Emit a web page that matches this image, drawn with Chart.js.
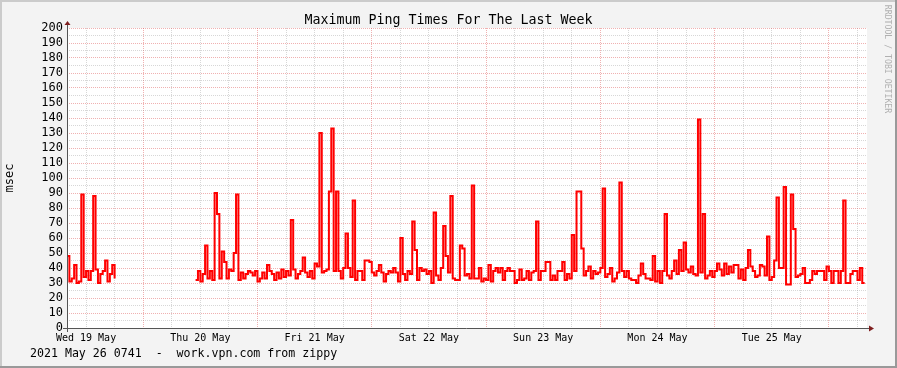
<!DOCTYPE html>
<html>
<head>
<meta charset="utf-8">
<script src="https://cdn.jsdelivr.net/npm/chart.js@4.4.1/dist/chart.umd.min.js"></script>
<style>
  html, body { margin: 0; padding: 0; background: #f3f3f3; }
  canvas { display: block; }
</style>
</head>
<body>
<canvas id="graficoPing" width="897" height="368"></canvas>
<script>
// Dados (máximo de ping a cada 30 minutos, em msec)
const titulo = 'Maximum Ping Times For The Last Week';
const rodape = '2021 May 26 0741  -  work.vpn.com from zippy';
const marcaDagua = 'RRDTOOL / TOBI OETIKER';
const unidade = 'msec';

const diasLabels = ['Wed 19 May', 'Thu 20 May', 'Fri 21 May', 'Sat 22 May', 'Sun 23 May', 'Mon 24 May', 'Tue 25 May'];
const inicioHoras = 8;      // horas desde Wed 19 May 00:00
const fimHoras = 176;       // uma semana depois
const passoHoras = 0.5;     // intervalo entre amostras
const yMin = 0;
const yMax = 200;

const pingMax = [
  48, 31, 33, 42, 30, 31, 89, 34, 38, 32, 38, 88,
  39, 30, 36, 38, 45, 31, 36, 42, 33, null, null, null,
  null, null, null, null, null, null, null, null, null, null, null, null,
  null, null, null, null, null, null, null, null, null, null, null, null,
  null, null, null, null, null, null, 32, 38, 31, 36, 55, 33,
  38, 32, 90, 76, 33, 51, 44, 33, 39, 38, 50, 89,
  32, 37, 33, 36, 38, 37, 35, 38, 31, 33, 37, 33,
  42, 38, 36, 32, 37, 33, 39, 34, 38, 35, 72, 39,
  33, 36, 38, 47, 37, 34, 38, 33, 43, 41, 130, 37,
  38, 39, 91, 133, 38, 91, 38, 33, 40, 63, 40, 34,
  85, 32, 38, 38, 32, 45, 45, 44, 37, 35, 38, 42,
  37, 31, 36, 38, 37, 40, 37, 31, 60, 36, 32, 38,
  36, 71, 52, 32, 40, 38, 39, 36, 38, 30, 77, 35,
  32, 40, 68, 48, 37, 88, 33, 32, 32, 55, 53, 35,
  36, 33, 95, 33, 33, 40, 31, 33, 32, 42, 31, 38,
  40, 37, 40, 32, 38, 40, 38, 38, 30, 32, 39, 32,
  33, 38, 32, 37, 38, 71, 32, 38, 38, 44, 44, 32,
  35, 32, 38, 38, 44, 32, 36, 33, 62, 38, 91, 91,
  53, 35, 38, 41, 33, 38, 36, 37, 40, 93, 34, 36,
  40, 31, 33, 37, 97, 38, 34, 38, 33, 32, 32, 30,
  35, 43, 36, 33, 33, 32, 48, 31, 38, 30, 38, 76,
  35, 33, 38, 45, 36, 52, 38, 57, 39, 37, 41, 36,
  35, 139, 37, 76, 33, 35, 38, 34, 38, 43, 39, 35,
  43, 36, 41, 37, 42, 42, 33, 39, 32, 40, 52, 41,
  38, 34, 35, 42, 41, 35, 61, 32, 34, 45, 87, 40,
  40, 94, 29, 29, 89, 66, 34, 35, 36, 40, 30, 30,
  32, 38, 36, 38, 38, 38, 32, 41, 38, 30, 38, 38,
  30, 38, 85, 30, 30, 36, 38, 38, 32, 40, 30, 30
];

const corGradeMaior = 'rgba(222, 81, 81, 0.45)';
const corGradeMenor = 'rgba(140, 140, 140, 0.35)';
const fonte = 'DejaVu Sans Mono';

// Fundo, moldura, eixos com setas e textos extras no estilo RRDtool
const moldura = {
  id: 'moldura',
  beforeDraw(chart) {
    const { ctx, width, height, chartArea: a } = chart;
    ctx.save();
    ctx.fillStyle = '#f3f3f3';
    ctx.fillRect(0, 0, width, height);
    ctx.fillStyle = '#cbcbcb';
    ctx.fillRect(0, 0, width, 2);
    ctx.fillRect(0, 0, 2, height);
    ctx.fillStyle = '#999999';
    ctx.fillRect(0, height - 2, width, 2);
    ctx.fillRect(width - 2, 0, 2, height);
    ctx.fillStyle = '#ffffff';
    ctx.fillRect(a.left, a.top, a.right - a.left, a.bottom - a.top);
    ctx.restore();
  },
  afterDraw(chart) {
    const { ctx, chartArea: a } = chart;
    ctx.save();
    ctx.strokeStyle = '#555555';
    ctx.lineWidth = 1;
    ctx.beginPath();
    ctx.moveTo(a.left - 4, a.bottom + 0.5);
    ctx.lineTo(a.right + 3, a.bottom + 0.5);
    ctx.moveTo(a.left + 0.5, a.bottom + 4);
    ctx.lineTo(a.left + 0.5, a.top - 3);
    ctx.stroke();

    ctx.fillStyle = '#7f1f1f';
    ctx.beginPath();
    ctx.moveTo(a.right + 7, a.bottom + 0.5);
    ctx.lineTo(a.right + 2, a.bottom - 2.5);
    ctx.lineTo(a.right + 2, a.bottom + 3.5);
    ctx.closePath();
    ctx.fill();
    ctx.beginPath();
    ctx.moveTo(a.left + 0.5, a.top - 7);
    ctx.lineTo(a.left - 2.5, a.top - 3);
    ctx.lineTo(a.left + 3.5, a.top - 3);
    ctx.closePath();
    ctx.fill();

    ctx.fillStyle = '#000000';
    ctx.font = '11.6px "' + fonte + '"';
    ctx.textAlign = 'left';
    ctx.textBaseline = 'middle';
    ctx.fillText(rodape, 30, 354);

    ctx.fillStyle = '#b0b0b0';
    ctx.font = '8.2px "' + fonte + '"';
    ctx.textAlign = 'center';
    ctx.translate(887, 59);
    ctx.rotate(Math.PI / 2);
    ctx.fillText(marcaDagua, 0, 0);
    ctx.restore();
  }
};

const pontos = pingMax.map((v, i) => ({ x: inicioHoras + i * passoHoras, y: v }));

new Chart(document.getElementById('graficoPing'), {
  type: 'line',
  data: {
    datasets: [{
      label: 'ping',
      data: pontos,
      borderColor: '#ff0000',
      borderWidth: 2,
      stepped: true,
      pointRadius: 0,
      spanGaps: false,
      fill: false
    }]
  },
  options: {
    responsive: false,
    animation: false,
    layout: { padding: 0 },
    plugins: {
      legend: { display: false },
      tooltip: { enabled: false },
      title: {
        display: true,
        text: titulo,
        color: '#000000',
        font: { family: fonte, size: 13.3, weight: 'normal', lineHeight: 1.0 },
        padding: { top: 14, bottom: 0.7 }
      }
    },
    scales: {
      x: {
        type: 'linear',
        min: inicioHoras,
        max: fimHoras,
        afterBuildTicks: (eixo) => {
          const t = [];
          for (let h = 12; h < fimHoras; h += 6) t.push({ value: h });
          eixo.ticks = t;
        },
        // espaço à direita para a seta, sem deslocar o título
        afterFit: (eixo) => { eixo.height = 40; eixo.paddingRight = 30; },
        border: { display: false, dash: [1, 1] },
        grid: {
          drawTicks: false,
          color: (c) => (c.tick && c.tick.value % 24 === 0) ? corGradeMaior : corGradeMenor
        },
        ticks: {
          autoSkip: false,
          maxRotation: 0,
          padding: 4,
          color: '#000000',
          font: { family: fonte, size: 10 },
          callback: (v) => (v % 24 === 12) ? diasLabels[(v - 12) / 24] : ''
        }
      },
      y: {
        min: yMin,
        max: yMax,
        afterFit: (eixo) => { eixo.width = 67; },
        border: { display: false, dash: [1, 1] },
        grid: {
          drawTicks: false,
          color: (c) => (c.tick && c.tick.value % 10 === 0) ? corGradeMaior : corGradeMenor
        },
        ticks: {
          stepSize: 5,
          autoSkip: false,
          padding: 4,
          color: '#000000',
          font: { family: fonte, size: 12 },
          callback: (v) => (v % 10 === 0) ? v : ''
        },
        title: {
          display: true,
          text: unidade,
          color: '#000000',
          font: { family: fonte, size: 12 },
          padding: { top: 3, bottom: 0 }
        }
      }
    }
  },
  plugins: [moldura]
});
</script>
</body>
</html>
